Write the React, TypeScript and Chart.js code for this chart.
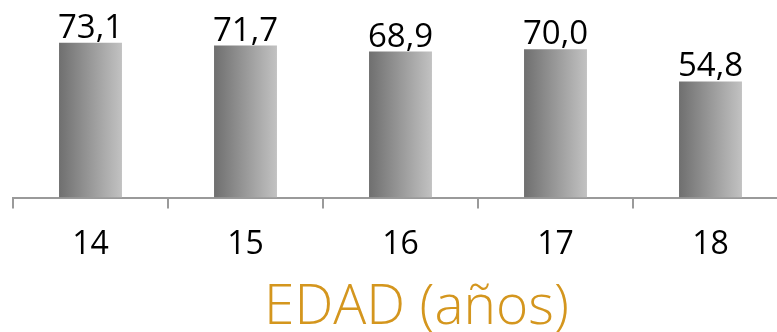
import React, { useEffect, useRef } from "react";
import { Chart, registerables } from "chart.js";

Chart.register(...registerables);

const categories = ["14", "15", "16", "17", "18"];
const values = [73.1, 71.7, 68.9, 70.0, 54.8];
const valueLabels = ["73,1", "71,7", "68,9", "70,0", "54,8"];
const axisTitle = "EDAD (años)";

const FONT = "'Open Sans', 'Noto Sans', sans-serif";

export default function App() {
  const ref = useRef<HTMLCanvasElement | null>(null);

  useEffect(() => {
    if (!ref.current) return;

    const labelPlugin = {
      id: "valueLabels",
      afterDatasetsDraw(chart: any) {
        const ctx = chart.ctx;
        const meta = chart.getDatasetMeta(0);
        ctx.save();
        ctx.font = `33px ${FONT}`;
        ctx.fillStyle = "#000";
        ctx.textAlign = "center";
        ctx.textBaseline = "alphabetic";
        meta.data.forEach((bar: any, i: number) => {
          ctx.fillText(valueLabels[i], bar.x, bar.y - 5);
        });
        ctx.restore();
      },
      afterDraw(chart: any) {
        const ctx = chart.ctx;
        const area = chart.chartArea;
        ctx.save();
        ctx.font = `300 55px ${FONT}`;
        ctx.fillStyle = "#D4961E";
        ctx.textAlign = "center";
        ctx.textBaseline = "alphabetic";
        ctx.fillText(axisTitle, (area.left + area.right) / 2 + 16, 324);
        ctx.restore();
      },
    };

    const chart = new Chart(ref.current, {
      type: "bar",
      data: {
        labels: categories,
        datasets: [
          {
            data: values,
            barPercentage: 0.406,
            categoryPercentage: 1,
            backgroundColor: (c: any) => {
              const chart = c.chart;
              const xs = chart.scales?.x;
              if (!xs || c.dataIndex === undefined) return "#999";
              const cx = xs.getPixelForValue(c.dataIndex);
              const half = (xs.width / categories.length) * 0.406 / 2;
              if (!isFinite(cx) || !isFinite(half) || half <= 0) return "#999";
              const g = chart.ctx.createLinearGradient(cx - half, 0, cx + half, 0);
              g.addColorStop(0, "#6f6f6f");
              g.addColorStop(1, "#c2c2c2");
              return g;
            },
            borderWidth: 0,
          },
        ],
      },
      options: {
        animation: false,
        responsive: true,
        maintainAspectRatio: false,
        layout: { padding: { left: 13, right: 12, top: 28, bottom: 51 } },
        plugins: {
          legend: { display: false },
          tooltip: { enabled: false },
        },
        scales: {
          x: {
            grid: {
              display: true,
              drawOnChartArea: false,
              drawTicks: true,
              tickLength: 11,
              color: "#9a9a9a",
              lineWidth: 2,
            },
            border: { display: true, color: "#9a9a9a", width: 2 },
            ticks: {
              color: "#000",
              font: { family: FONT, size: 32 },
              padding: 17,
            },
          },
          y: {
            display: false,
            min: 0,
            max: 80,
          },
        },
      },
      plugins: [labelPlugin],
    });

    return () => chart.destroy();
  }, []);

  return (
    <div
      style={{
        position: "fixed",
        left: 0,
        top: 0,
        width: 777,
        height: 332,
        overflow: "hidden",
        background: "#fff",
      }}
    >
      <div style={{ position: "relative", width: 800, height: 332 }}>
        <canvas ref={ref} />
      </div>
    </div>
  );
}
